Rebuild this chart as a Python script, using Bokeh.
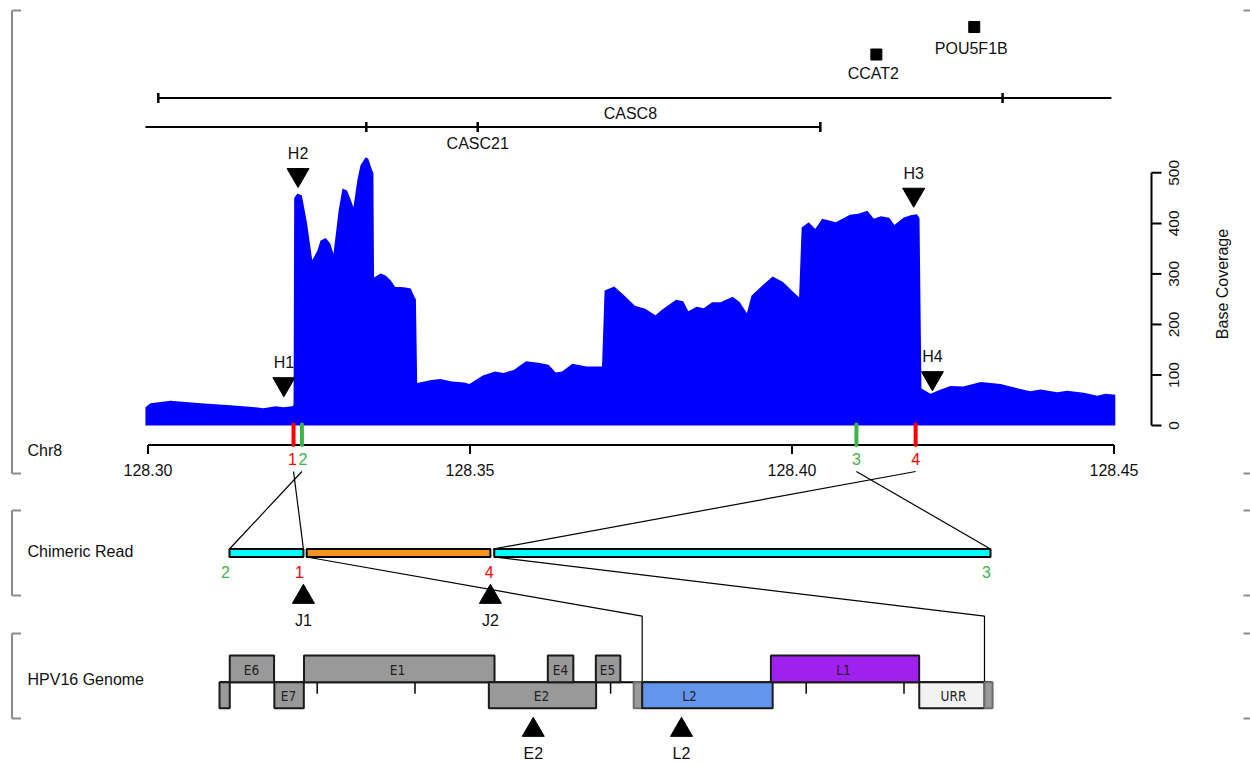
import math
from bokeh.plotting import figure
from bokeh.models import Range1d
from bokeh.core.properties import value
from bokeh.embed import file_html
from bokeh.resources import INLINE

# ---------------------------------------------------------------- data
# base coverage along chr8 (Mb, reads)
cov_pos = [128.2996, 128.3004, 128.3035, 128.3082, 128.3128, 128.3167, 128.3179, 128.3198, 128.3210, 128.3224, 128.3226,
           128.3227, 128.3232, 128.3239, 128.3247, 128.3255, 128.3263, 128.3268, 128.3276, 128.3283, 128.3288,
           128.3296, 128.3302, 128.3309, 128.3314, 128.3319, 128.3325, 128.3330, 128.3338, 128.3342, 128.3348,
           128.3350, 128.3351, 128.3361, 128.3369, 128.3377, 128.3384, 128.3392, 128.3400, 128.3408, 128.3414, 128.3416,
           128.3418, 128.3440, 128.3454, 128.3472, 128.3491, 128.3499, 128.3520, 128.3539, 128.3552, 128.3568,
           128.3587, 128.3606, 128.3622, 128.3633, 128.3643, 128.3659, 128.3681, 128.3705,
           128.3709, 128.3724, 128.3740, 128.3756, 128.3772, 128.3788, 128.3798, 128.3820, 128.3831, 128.3839,
           128.3852, 128.3863, 128.3876, 128.3889, 128.3908, 128.3919, 128.3930, 128.3937, 128.3954, 128.3970,
           128.3986, 128.4002, 128.4011,
           128.4015, 128.4026, 128.4036, 128.4047, 128.4068, 128.4090, 128.4103, 128.4117, 128.4127, 128.4138,
           128.4151, 128.4159, 128.4173, 128.4184, 128.4194, 128.4198,
           128.4201, 128.4215, 128.4231, 128.4246, 128.4266, 128.4293, 128.4324, 128.4339, 128.4370, 128.4386,
           128.4412, 128.4427, 128.4453, 128.4474, 128.4487, 128.4502]
cov_val = [36, 44, 49, 44, 40, 36, 34, 38, 36, 38, 40,
           450, 459, 455, 400, 327, 346, 366, 371, 360, 340,
           425, 469, 465, 449, 432, 485, 515, 531, 528, 505,
           500, 293, 301, 297, 287, 274, 274, 273, 271, 254, 250,
           84, 90, 92, 87, 85, 82, 99, 107, 104, 110,
           127, 124, 120, 105, 107, 122, 117, 117,
           267, 275, 257, 237, 231, 218, 229, 249, 246, 226,
           235, 232, 244, 244, 255, 244, 222, 257, 277, 295,
           284, 264, 254,
           392, 402, 389, 409, 402, 417, 419, 425, 409, 414,
           411, 397, 411, 416, 418, 410,
           73, 63, 71, 78, 77, 86, 82, 77, 68, 71,
           66, 69, 65, 59, 63, 61]

chr_tick_vals = [128.30, 128.35, 128.40, 128.45]
cov_tick_vals = [0, 100, 200, 300, 400, 500]

# genes (Mb)
line_gene_start = [128.3016, 128.2996]
line_gene_end = [128.4496, 128.4044]
line_gene_ticks = [[128.3016, 128.4327], [128.3339, 128.3512, 128.4044]]
label_gene_names = ["CASC8", "CASC21"]
label_gene_pos = [128.3749, 128.3512]
point_gene_names = ["CCAT2", "POU5F1B"]
point_gene_pos = [128.4131, 128.4283]

# coverage hotspots
hmark_names = ["H1", "H2", "H3", "H4"]
hmark_pos = [128.3211, 128.3233, 128.4189, 128.4218]
hmark_cov = [82, 496, 457, 94]

# breakpoints on chr8 and on the chimeric read (kb)
bp_names = ["1", "2", "3", "4"]
bp_chr_pos = [128.3226, 128.3239, 128.4100, 128.4192]
bp_read_pos = [1.36, 0.00, 14.00, 4.85]

# chimeric read segments (kb)
read_seg_start = [0.00, 1.42, 4.87]
read_seg_end = [1.36, 4.80, 14.00]
read_seg_kind = ["chr8", "hpv", "chr8"]

junc_names = ["J1", "J2"]
junc_read_pos = [1.36, 4.80]
hpv_link_read = [1.42, 4.87]
hpv_link_bp = [4323, 7823]

# HPV16 genome (bp)
hpv_length = 7906
hpv_names = ["", "E6", "E7", "E1", "E2", "E4", "E5", "", "L2", "L1", "URR", ""]
hpv_start = [1, 106, 562, 865, 2755, 3358, 3849, 4236, 4323, 5639, 7156, 7823]
hpv_end = [106, 559, 863, 2813, 3852, 3619, 4100, 4323, 5657, 7155, 7823, 7906]
hpv_row = [0, 1, 0, 1, 0, 1, 1, 0, 0, 1, 0, 0]
hpv_kind = ["gene", "gene", "gene", "gene", "gene", "gene", "gene", "out", "L2", "L1", "URR", "out"]
hpv_label_bp = [0, 328, 707, 1821, 3294, 3488, 3969, 0, 4807, 6382, 7506, 0]
hpv_tick_bp = [1000, 2000, 3000, 4000, 5000, 6000, 7000]
hpv_marker_names = ["E2", "L2"]
hpv_marker_bp = [3209, 4725]

# ---------------------------------------------------------------- style / layout
RED, GREEN = "#FF0000", "#3CB44B"
COV_BLUE = "#0000FF"
KIND_FILL = {"chr8": "#00FFFF", "hpv": "#F7931E", "gene": "#999999", "out": "#9A9A9A",
             "L2": "#6495ED", "L1": "#A020F0", "URR": "#F2F2F2"}
KIND_LINE = {"gene": "#1A1A1A", "out": "#6E6E6E", "L2": "#1A1A1A", "L1": "#1A1A1A", "URR": "#1A1A1A"}
FONT = value("Liberation Sans")
NARROW = value("DejaVu Sans Condensed, Liberation Sans, sans-serif")
BRACKET = "#8C8C8C"

W, H = 1250, 763
OFF = 0
CHR_PX0, CHR_PX_PER_MB, CHR_MB0 = 147.5, 6440.0, 128.30
COV_PY0, COV_PY_PER_UNIT = 425.0, 0.5053
READ_PX0, READ_PX_PER_KB = 229.0, 54.357
HPV_PX0, HPV_PX_PER_BP = 218.9, 0.0978


def px_to_mb(px):
    return CHR_MB0 + (px - CHR_PX0) / CHR_PX_PER_MB


def read_to_mb(kb):
    return px_to_mb(READ_PX0 + kb * READ_PX_PER_KB)


def hpv_to_mb(bp):
    return px_to_mb(HPV_PX0 + bp * HPV_PX_PER_BP)


p = figure(width=W, height=H,
           x_range=Range1d(px_to_mb(OFF), px_to_mb(OFF + W)),
           y_range=Range1d(OFF + H, OFF),
           output_backend="svg", toolbar_location=None, min_border=0,
           x_axis_type=None, y_axis_type=None)
p.outline_line_color = None
p.extra_y_ranges = {"cov": Range1d((COV_PY0 - (OFF + H)) / COV_PY_PER_UNIT, (COV_PY0 - OFF) / COV_PY_PER_UNIT)}
p.extra_x_ranges = {
    "read": Range1d((OFF - READ_PX0) / READ_PX_PER_KB, (OFF + W - READ_PX0) / READ_PX_PER_KB),
    "hpv": Range1d((OFF - HPV_PX0) / HPV_PX_PER_BP, (OFF + W - HPV_PX0) / HPV_PX_PER_BP),
}

# ---------------------------------------------------------------- section brackets
BR_L, BR_L2, BR_R1, BR_R2 = 11.5, 20.5, 1243, 1250
for top, bot in [(10, 473), (510, 595), (633, 718)]:
    p.segment(x0=[px_to_mb(BR_L)] * 3 + [px_to_mb(BR_R1)] * 2,
              y0=[top, top, bot, top, bot],
              x1=[px_to_mb(BR_L), px_to_mb(BR_L2), px_to_mb(BR_L2), px_to_mb(BR_R2), px_to_mb(BR_R2)],
              y1=[bot, top, bot, top, bot], line_color=BRACKET, line_width=2)

p.text(x=[px_to_mb(27)] * 3, y=[450, 551, 679], text=["Chr8", "Chimeric Read", "HPV16 Genome"],
       text_font=FONT, text_font_size="16px", text_align="left", text_baseline="middle", text_color="#111")

# ---------------------------------------------------------------- gene track
GENE_ROW_Y = [97.5, 126.5]
for s, e, ticks, gy in zip(line_gene_start, line_gene_end, line_gene_ticks, GENE_ROW_Y):
    p.segment(x0=[s], y0=[gy], x1=[e], y1=[gy], line_color="black", line_width=2)
    p.segment(x0=ticks, y0=[gy - 5] * len(ticks), x1=ticks, y1=[gy + 5] * len(ticks),
              line_color="black", line_width=2.5)
p.text(x=label_gene_pos, y=[112.5, 143], text=label_gene_names, text_font=FONT, text_font_size="16px",
       text_align="center", text_baseline="middle", text_color="#111")
p.scatter(x=point_gene_pos, y=[54, 26.5], marker="square", size=11, color="black")
p.text(x=point_gene_pos, y=[73, 47.5], text=point_gene_names, text_font=FONT, text_font_size="16px",
       text_align="center", text_baseline="middle", text_color="#111", x_offset=-3)

# ---------------------------------------------------------------- coverage
p.varea(x=cov_pos, y1=[0] * len(cov_pos), y2=cov_val, fill_color=COV_BLUE, y_range_name="cov")
p.scatter(x=hmark_pos, y=hmark_cov, marker="inverted_triangle", size=22, color="black", y_range_name="cov")
p.text(x=hmark_pos, y=hmark_cov, text=hmark_names, y_offset=-21.5, text_font=FONT, text_font_size="16px",
       text_align="center", text_baseline="middle", text_color="#111", y_range_name="cov")

# coverage axis (right)
AX_X, AX_TICK_X, AX_LAB_X, AX_TITLE_X = px_to_mb(1151), px_to_mb(1161), px_to_mb(1173), px_to_mb(1222)
p.segment(x0=[AX_X], y0=[cov_tick_vals[0]], x1=[AX_X], y1=[cov_tick_vals[-1]], line_color="black",
          line_width=2, y_range_name="cov")
p.segment(x0=[AX_X] * len(cov_tick_vals), y0=cov_tick_vals, x1=[AX_TICK_X] * len(cov_tick_vals), y1=cov_tick_vals,
          line_color="black", line_width=2, y_range_name="cov")
p.text(x=[AX_LAB_X] * len(cov_tick_vals), y=cov_tick_vals, text=[str(v) for v in cov_tick_vals],
       angle=math.pi / 2, text_font=FONT, text_font_size="15.5px", text_align="center", text_baseline="middle",
       text_color="#111", y_range_name="cov")
p.text(x=[AX_TITLE_X], y=[280], text=["Base Coverage"], angle=math.pi / 2, text_font=FONT,
       text_font_size="16px", text_align="center", text_baseline="middle", text_color="#111", y_range_name="cov")

# ---------------------------------------------------------------- chr8 axis + breakpoints
CHR_AX_Y = 444.5
p.segment(x0=[chr_tick_vals[0]], y0=[CHR_AX_Y], x1=[chr_tick_vals[-1]], y1=[CHR_AX_Y], line_color="black", line_width=2)
p.segment(x0=chr_tick_vals, y0=[CHR_AX_Y] * 4, x1=chr_tick_vals, y1=[CHR_AX_Y + 9] * 4, line_color="black", line_width=2)
p.text(x=chr_tick_vals, y=[469] * 4, text=["%.2f" % v for v in chr_tick_vals], text_font=FONT,
       text_font_size="16px", text_align="center", text_baseline="middle", text_color="#111")

bp_colors = [RED if n in ("1", "4") else GREEN for n in bp_names]
p.segment(x0=bp_chr_pos, y0=[424] * 4, x1=bp_chr_pos, y1=[CHR_AX_Y] * 4, line_color=bp_colors, line_width=4,
          line_cap="round")
p.text(x=bp_chr_pos, y=[458.5] * 4, text=bp_names, text_color=bp_colors, x_offset=[-1, 1, 0, 0], text_font=FONT,
       text_font_size="16px", text_align="center", text_baseline="middle")

# connectors chr8 -> read
p.multi_line(xs=[[c, read_to_mb(r)] for c, r in zip(bp_chr_pos, bp_read_pos)],
             ys=[[471, 548.5]] * 4, line_color="black", line_width=1.2)

# ---------------------------------------------------------------- chimeric read
READ_TOP, READ_BOT = 548.5, 556.5
p.quad(left=read_seg_start, right=read_seg_end, top=[READ_TOP] * 3, bottom=[READ_BOT] * 3,
       fill_color=[KIND_FILL[k] for k in read_seg_kind], line_color="black", line_width=2, x_range_name="read")
p.text(x=bp_read_pos, y=[571.5] * 4, text=bp_names, text_color=bp_colors, x_offset=-4, text_font=FONT,
       text_font_size="16px", text_align="center", text_baseline="middle", x_range_name="read")
p.scatter(x=junc_read_pos, y=[596.5] * 2, marker="triangle", size=22, color="black", x_range_name="read")
p.text(x=junc_read_pos, y=[619.5] * 2, text=junc_names, text_font=FONT, text_font_size="16px",
       text_align="center", text_baseline="middle", text_color="#111", x_range_name="read")

# connectors read -> HPV
HPV_MID = 681.7
p.multi_line(xs=[[read_to_mb(r), hpv_to_mb(b), hpv_to_mb(b)] for r, b in zip(hpv_link_read, hpv_link_bp)],
             ys=[[READ_BOT, 615.7, HPV_MID]] * 2, line_color="black", line_width=1.2)

# ---------------------------------------------------------------- HPV genome
ROW_TOP = {1: 655.0, 0: HPV_MID}
ROW_BOT = {1: HPV_MID, 0: 707.7}
p.segment(x0=[1], y0=[HPV_MID], x1=[hpv_length], y1=[HPV_MID], line_color="black", line_width=2, x_range_name="hpv")
p.segment(x0=hpv_tick_bp, y0=[HPV_MID] * len(hpv_tick_bp), x1=hpv_tick_bp, y1=[HPV_MID + 11.5] * len(hpv_tick_bp),
          line_color="black", line_width=1.5, x_range_name="hpv")
p.quad(left=hpv_start, right=hpv_end, top=[ROW_TOP[r] for r in hpv_row], bottom=[ROW_BOT[r] for r in hpv_row],
       fill_color=[KIND_FILL[k] for k in hpv_kind], line_color=[KIND_LINE[k] for k in hpv_kind], line_width=2,
       x_range_name="hpv")
lab_idx = [i for i, n in enumerate(hpv_names) if n]
p.text(x=[hpv_label_bp[i] for i in lab_idx],
       y=[(ROW_TOP[hpv_row[i]] + ROW_BOT[hpv_row[i]]) / 2 + 1 for i in lab_idx],
       text=[hpv_names[i] for i in lab_idx], text_font=NARROW, text_font_size="13.5px", text_align="center",
       text_baseline="middle", text_color="#222", x_range_name="hpv")
p.scatter(x=hpv_marker_bp, y=[729.5] * 2, marker="triangle", size=22, color="black", x_range_name="hpv")
p.text(x=hpv_marker_bp, y=[752.5] * 2, text=hpv_marker_names, text_font=FONT, text_font_size="16px",
       text_align="center", text_baseline="middle", text_color="#111", x_range_name="hpv")

open("out.html", "w").write(file_html(p, INLINE))
